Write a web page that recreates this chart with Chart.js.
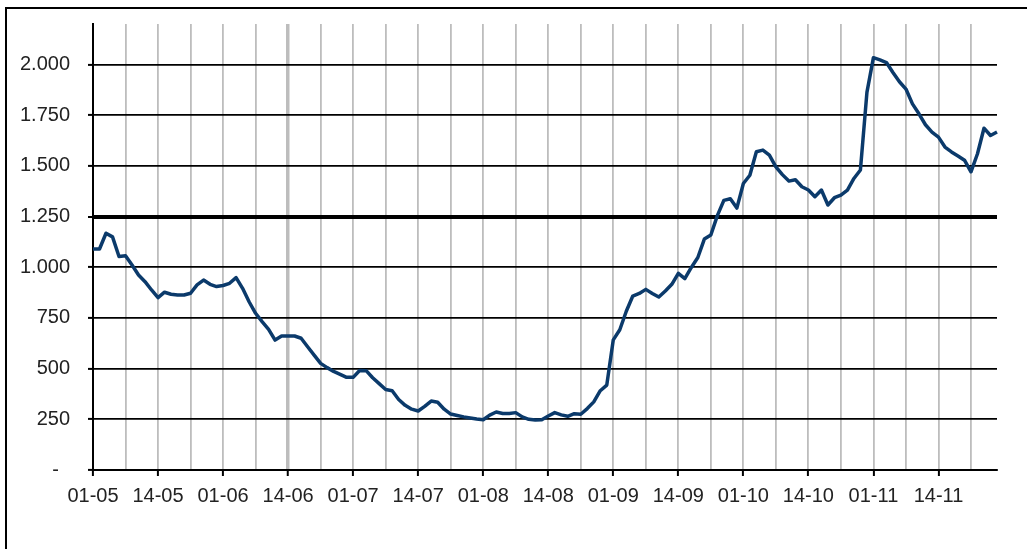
<!DOCTYPE html>
<html>
<head>
<meta charset="utf-8">
<script src="https://cdn.jsdelivr.net/npm/chart.js@4.4.1/dist/chart.umd.min.js"></script>
<style>
html,body{margin:0;padding:0;background:#fff;}
#wrap{position:relative;width:1027px;height:549px;overflow:hidden;}
#frame{position:absolute;left:5px;top:7px;right:-10px;bottom:-10px;border-left:2px solid #000;border-top:2px solid #000;pointer-events:none;}
</style>
</head>
<body>
<div id="wrap">
<canvas id="chart-preco" width="1027" height="549"></canvas>
<div id="frame"></div>
</div>
<script>
/* valores (um ponto por categoria) */
var serieValores=[1090,1090,1168,1150,1053,1057,1011,962,929,888,
850,877,867,863,863,872,913,937,916,905,
910,921,949,896,830,773,732,694,641,661,
661,661,650,608,567,526,505,486,472,457,
457,491,490,455,426,397,391,348,319,300,
291,314,340,334,300,276,269,262,257,252,
248,271,286,279,279,283,262,250,247,248,
266,283,272,265,278,275,303,336,391,419,
642,692,783,858,871,891,871,853,883,916,
970,944,999,1048,1139,1159,1255,1330,1338,1292,
1413,1454,1570,1578,1553,1495,1457,1425,1432,1397,
1381,1348,1381,1307,1343,1356,1381,1438,1480,1863,
2034,2023,2010,1961,1915,1879,1806,1757,1703,1667,
1642,1593,1569,1549,1528,1471,1560,1686,1650,1667];
var categorias=serieValores.map(function(_,i){return i;});
var xTickLabels=['01-05','14-05','01-06','14-06','01-07','14-07','01-08','14-08','01-09','14-09','01-10','14-10','01-11','14-11'];
var yTicks=[0,250,500,750,1000,1250,1500,1750,2000];
var yMax=2200, limite=1250;

function fmt(v){if(v===0) return '-  ';var s=String(v);return s.length>3?s.slice(0,-3)+'.'+s.slice(-3):s;}

Chart.defaults.font.family='"Liberation Sans", Arial, sans-serif';
Chart.defaults.font.size=20;
Chart.defaults.color='#222';

new Chart(document.getElementById('chart-preco'),{
  type:'line',
  data:{labels:categorias,datasets:[{data:serieValores,borderColor:'#0b3a6b',borderWidth:3.5,pointRadius:0,tension:0,fill:false,borderJoinStyle:'round'}]},
  options:{
    responsive:false,animation:false,devicePixelRatio:1,
    layout:{padding:{left:0,right:30,top:24,bottom:0}},
    plugins:{legend:{display:false},tooltip:{enabled:false}},
    scales:{
      x:{
        offset:false,
        afterFit:function(s){s.height=79;},
        border:{display:true,color:'#000',width:2},
        grid:{
          color:function(c){if(c.index===0) return 'rgba(0,0,0,0)';return c.index%5===0?'#bdbdbd':'rgba(0,0,0,0)';},
          lineWidth:function(c){return c.index===30?3.5:1.8;},
          tickColor:function(c){return c.index%10===0?'#000':'rgba(0,0,0,0)';},
          tickWidth:2,tickLength:6,drawTicks:true
        },
        ticks:{autoSkip:false,maxRotation:0,minRotation:0,padding:8,
          callback:function(v,i){return i%10===0?(xTickLabels[i/10]||''):'';}}
      },
      y:{
        min:0,max:yMax,
        afterFit:function(s){s.width=93;s.paddingTop=0;s.paddingBottom=0;},
        afterBuildTicks:function(s){s.ticks=yTicks.map(function(v){return {value:v};});},
        border:{display:true,color:'#000',width:2},
        grid:{
          color:'#000',
          lineWidth:function(c){return c.tick&&c.tick.value===limite?4:1.8;},
          tickColor:'#000',tickLength:5,tickWidth:2
        },
        ticks:{padding:18,callback:function(v){return fmt(v);}}
      }
    }
  }
});
</script>
</body>
</html>
